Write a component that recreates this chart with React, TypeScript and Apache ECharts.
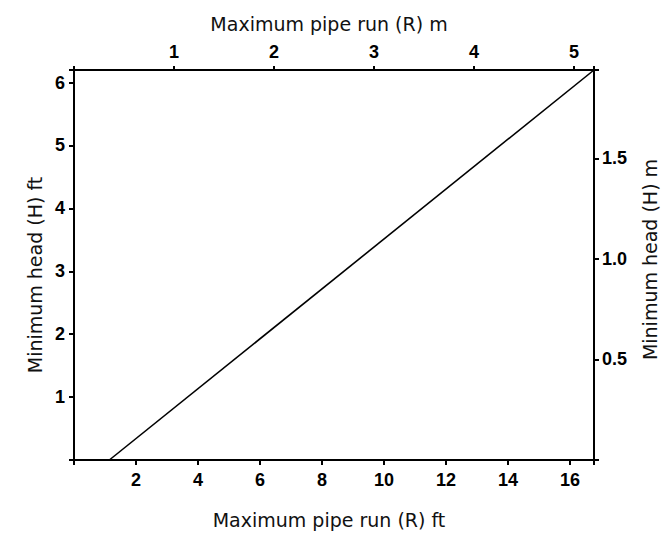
import React, { useEffect, useRef } from "react";
import * as echarts from "echarts";

// Data
const runFtRange = [0, 16.77];
const runMRange = [0, 5.2];
const headFtRange = [0, 6.2];
const headMRange = [0, 1.94];
// Line: [run (ft), head (ft)]
const linePoints: [number, number][] = [
  [1.14, 0],
  [16.77, 6.2],
];

const TICK_FONT = "'Liberation Sans', Arial, Helvetica, sans-serif";
const NAME_FONT = "'DejaVu Sans', Verdana, sans-serif";

export default function App() {
  const ref = useRef<HTMLDivElement>(null);
  useEffect(() => {
    document.body.style.margin = "0";
    if (!ref.current) return;
    const chart = echarts.init(ref.current, undefined, { renderer: "svg", width: 662, height: 533 });
    const axisLine = { show: true, onZero: false, lineStyle: { color: "#000", width: 2 } };
    const tickLabel = { color: "#000", fontFamily: TICK_FONT, fontSize: 18, fontWeight: "bold" as const };
    const nameStyle = { color: "#111", fontFamily: NAME_FONT, fontSize: 19 };
    const intLabel = (v: number) => (Math.abs(v - Math.round(v)) < 1e-6 && v !== 0 ? String(v) : "");
    const tick = (len: number) => ({ show: true, inside: false, length: len, lineStyle: { color: "#000", width: 2 } });
    chart.setOption({
      animation: false,
      backgroundColor: "#fff",
      grid: { left: 74, top: 70, width: 520, height: 390, containLabel: false, outerBoundsMode: "none" },
      xAxis: [
        {
          type: "value",
          position: "bottom",
          min: runFtRange[0],
          max: runFtRange[1],
          interval: 2,
          name: "Maximum pipe run (R) ft",
          nameLocation: "middle",
          nameGap: 50,
          nameTextStyle: { ...nameStyle, padding: [0, 10, 0, 0] },
          axisLine,
          axisTick: tick(5),
          axisLabel: { ...tickLabel, margin: 11, formatter: intLabel },
          splitLine: { show: false },
        },
        {
          type: "value",
          position: "top",
          min: runMRange[0],
          max: runMRange[1],
          interval: 1,
          name: "Maximum pipe run (R) m",
          nameLocation: "middle",
          nameGap: 37,
          nameTextStyle: { ...nameStyle, padding: [0, 10, 0, 0] },
          axisLine,
          axisTick: tick(4),
          axisLabel: { ...tickLabel, margin: 9, formatter: intLabel },
          splitLine: { show: false },
        },
      ],
      yAxis: [
        {
          type: "value",
          position: "left",
          min: headFtRange[0],
          max: headFtRange[1],
          interval: 1,
          name: "Minimum head (H) ft",
          nameLocation: "middle",
          nameRotate: 90,
          nameGap: 28,
          nameTextStyle: { ...nameStyle, padding: [0, 20, 0, 0] },
          axisLine,
          axisTick: tick(5),
          axisLabel: { ...tickLabel, margin: 9, formatter: intLabel },
          splitLine: { show: false },
        },
        {
          type: "value",
          position: "right",
          min: headMRange[0],
          max: headMRange[1],
          interval: 0.5,
          name: "Minimum head (H) m",
          nameLocation: "middle",
          nameRotate: 90,
          nameGap: 46,
          nameTextStyle: { ...nameStyle, padding: [0, 0, 0, 11] },
          axisLine,
          axisTick: tick(5),
          axisLabel: {
            ...tickLabel,
            margin: 8,
            formatter: (v: number) =>
              v > 0 && Math.abs(v * 2 - Math.round(v * 2)) < 1e-6 ? v.toFixed(1) : "",
          },
          splitLine: { show: false },
        },
      ],
      series: [
        {
          type: "line",
          xAxisIndex: 0,
          yAxisIndex: 0,
          data: linePoints,
          showSymbol: false,
          symbol: "none",
          clip: true,
          lineStyle: { color: "#000", width: 1.6 },
        },
      ],
    });
    return () => chart.dispose();
  }, []);
  return (
    <div
      ref={ref}
      style={{ position: "fixed", left: 0, top: 0, width: 662, height: 533, background: "#fff" }}
    />
  );
}
